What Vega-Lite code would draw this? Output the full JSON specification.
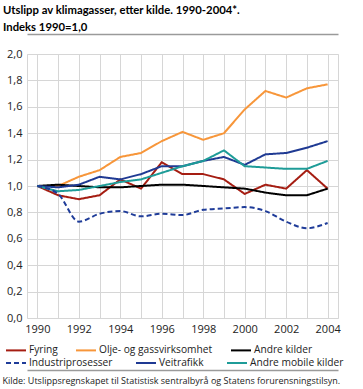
{
  "$schema": "https://vega.github.io/schema/vega-lite/v6.json",
  "autosize": "none",
  "width": 311,
  "height": 264,
  "padding": {"left": 27, "top": 54, "right": 25, "bottom": 71},
  "title": {
    "text": ["Utslipp av klimagasser, etter kilde. 1990-2004*.", "Indeks 1990=1,0"],
    "anchor": "start",
    "frame": "group",
    "dx": -24,
    "offset": 1,
    "font": "Lato",
    "fontSize": 11.3,
    "fontWeight": "bold",
    "lineHeight": 17,
    "color": "#000000"
  },
  "datasets": {
    "utslipp": [
      {"year": 1990, "kilde": "Fyring", "v": 1.00}, {"year": 1991, "kilde": "Fyring", "v": 0.93}, {"year": 1992, "kilde": "Fyring", "v": 0.90}, {"year": 1993, "kilde": "Fyring", "v": 0.93}, {"year": 1994, "kilde": "Fyring", "v": 1.05}, {"year": 1995, "kilde": "Fyring", "v": 0.98}, {"year": 1996, "kilde": "Fyring", "v": 1.18}, {"year": 1997, "kilde": "Fyring", "v": 1.09}, {"year": 1998, "kilde": "Fyring", "v": 1.09}, {"year": 1999, "kilde": "Fyring", "v": 1.05}, {"year": 2000, "kilde": "Fyring", "v": 0.94}, {"year": 2001, "kilde": "Fyring", "v": 1.01}, {"year": 2002, "kilde": "Fyring", "v": 0.98}, {"year": 2003, "kilde": "Fyring", "v": 1.12}, {"year": 2004, "kilde": "Fyring", "v": 0.98},
      {"year": 1990, "kilde": "Olje- og gassvirksomhet", "v": 1.00}, {"year": 1991, "kilde": "Olje- og gassvirksomhet", "v": 1.00}, {"year": 1992, "kilde": "Olje- og gassvirksomhet", "v": 1.07}, {"year": 1993, "kilde": "Olje- og gassvirksomhet", "v": 1.12}, {"year": 1994, "kilde": "Olje- og gassvirksomhet", "v": 1.22}, {"year": 1995, "kilde": "Olje- og gassvirksomhet", "v": 1.25}, {"year": 1996, "kilde": "Olje- og gassvirksomhet", "v": 1.34}, {"year": 1997, "kilde": "Olje- og gassvirksomhet", "v": 1.41}, {"year": 1998, "kilde": "Olje- og gassvirksomhet", "v": 1.35}, {"year": 1999, "kilde": "Olje- og gassvirksomhet", "v": 1.40}, {"year": 2000, "kilde": "Olje- og gassvirksomhet", "v": 1.58}, {"year": 2001, "kilde": "Olje- og gassvirksomhet", "v": 1.72}, {"year": 2002, "kilde": "Olje- og gassvirksomhet", "v": 1.67}, {"year": 2003, "kilde": "Olje- og gassvirksomhet", "v": 1.74}, {"year": 2004, "kilde": "Olje- og gassvirksomhet", "v": 1.77},
      {"year": 1990, "kilde": "Andre kilder", "v": 1.00}, {"year": 1991, "kilde": "Andre kilder", "v": 1.01}, {"year": 1992, "kilde": "Andre kilder", "v": 1.00}, {"year": 1993, "kilde": "Andre kilder", "v": 0.99}, {"year": 1994, "kilde": "Andre kilder", "v": 0.99}, {"year": 1995, "kilde": "Andre kilder", "v": 1.00}, {"year": 1996, "kilde": "Andre kilder", "v": 1.01}, {"year": 1997, "kilde": "Andre kilder", "v": 1.01}, {"year": 1998, "kilde": "Andre kilder", "v": 1.00}, {"year": 1999, "kilde": "Andre kilder", "v": 0.99}, {"year": 2000, "kilde": "Andre kilder", "v": 0.98}, {"year": 2001, "kilde": "Andre kilder", "v": 0.95}, {"year": 2002, "kilde": "Andre kilder", "v": 0.93}, {"year": 2003, "kilde": "Andre kilder", "v": 0.93}, {"year": 2004, "kilde": "Andre kilder", "v": 0.98},
      {"year": 1990, "kilde": "Industriprosesser", "v": 1.00}, {"year": 1991, "kilde": "Industriprosesser", "v": 0.94}, {"year": 1992, "kilde": "Industriprosesser", "v": 0.73}, {"year": 1993, "kilde": "Industriprosesser", "v": 0.79}, {"year": 1994, "kilde": "Industriprosesser", "v": 0.81}, {"year": 1995, "kilde": "Industriprosesser", "v": 0.77}, {"year": 1996, "kilde": "Industriprosesser", "v": 0.79}, {"year": 1997, "kilde": "Industriprosesser", "v": 0.78}, {"year": 1998, "kilde": "Industriprosesser", "v": 0.82}, {"year": 1999, "kilde": "Industriprosesser", "v": 0.83}, {"year": 2000, "kilde": "Industriprosesser", "v": 0.84}, {"year": 2001, "kilde": "Industriprosesser", "v": 0.81}, {"year": 2002, "kilde": "Industriprosesser", "v": 0.73}, {"year": 2003, "kilde": "Industriprosesser", "v": 0.68}, {"year": 2004, "kilde": "Industriprosesser", "v": 0.72},
      {"year": 1990, "kilde": "Veitrafikk", "v": 1.00}, {"year": 1991, "kilde": "Veitrafikk", "v": 0.99}, {"year": 1992, "kilde": "Veitrafikk", "v": 1.01}, {"year": 1993, "kilde": "Veitrafikk", "v": 1.07}, {"year": 1994, "kilde": "Veitrafikk", "v": 1.05}, {"year": 1995, "kilde": "Veitrafikk", "v": 1.09}, {"year": 1996, "kilde": "Veitrafikk", "v": 1.15}, {"year": 1997, "kilde": "Veitrafikk", "v": 1.15}, {"year": 1998, "kilde": "Veitrafikk", "v": 1.19}, {"year": 1999, "kilde": "Veitrafikk", "v": 1.22}, {"year": 2000, "kilde": "Veitrafikk", "v": 1.16}, {"year": 2001, "kilde": "Veitrafikk", "v": 1.24}, {"year": 2002, "kilde": "Veitrafikk", "v": 1.25}, {"year": 2003, "kilde": "Veitrafikk", "v": 1.29}, {"year": 2004, "kilde": "Veitrafikk", "v": 1.34},
      {"year": 1990, "kilde": "Andre mobile kilder", "v": 1.00}, {"year": 1991, "kilde": "Andre mobile kilder", "v": 0.96}, {"year": 1992, "kilde": "Andre mobile kilder", "v": 0.97}, {"year": 1993, "kilde": "Andre mobile kilder", "v": 1.00}, {"year": 1994, "kilde": "Andre mobile kilder", "v": 1.03}, {"year": 1995, "kilde": "Andre mobile kilder", "v": 1.05}, {"year": 1996, "kilde": "Andre mobile kilder", "v": 1.10}, {"year": 1997, "kilde": "Andre mobile kilder", "v": 1.15}, {"year": 1998, "kilde": "Andre mobile kilder", "v": 1.19}, {"year": 1999, "kilde": "Andre mobile kilder", "v": 1.27}, {"year": 2000, "kilde": "Andre mobile kilder", "v": 1.15}, {"year": 2001, "kilde": "Andre mobile kilder", "v": 1.14}, {"year": 2002, "kilde": "Andre mobile kilder", "v": 1.13}, {"year": 2003, "kilde": "Andre mobile kilder", "v": 1.13}, {"year": 2004, "kilde": "Andre mobile kilder", "v": 1.19}
    ]
  },
  "data": {"name": "utslipp"},
  "encoding": {
    "y": {
      "field": "v",
      "type": "quantitative",
      "scale": {"domain": [0, 2], "nice": false},
      "axis": {
        "values": [0, 0.2, 0.4, 0.6, 0.8, 1.0, 1.2, 1.4, 1.6, 1.8, 2.0],
        "labelExpr": "replace(format(datum.value, '.1f'), '.', ',')",
        "title": null,
        "domain": false,
        "labelPadding": 5
      }
    },
    "color": {
      "field": "kilde",
      "type": "nominal",
      "scale": {
        "domain": ["Fyring", "Olje- og gassvirksomhet", "Andre kilder", "Industriprosesser", "Veitrafikk", "Andre mobile kilder"],
        "range": ["#a51d12", "#f7963a", "#000000", "#1f3c99", "#1f3a93", "#1e9c98"]
      },
      "legend": {
        "title": null,
        "orient": "none",
        "legendX": -17,
        "legendY": 290,
        "direction": "horizontal",
        "values": ["Fyring", "Olje- og gassvirksomhet", "Andre kilder"],
        "columnPadding": 14,
        "symbolType": "M-2,0L2,0",
        "symbolSize": 100,
        "symbolStrokeWidth": 2,
        "labelFontSize": 10.2,
        "labelOffset": 7
      }
    },
    "strokeDash": {
      "field": "kilde",
      "type": "nominal",
      "scale": {
        "domain": ["Industriprosesser", "Veitrafikk", "Andre mobile kilder", "Fyring", "Olje- og gassvirksomhet", "Andre kilder"],
        "range": [[5, 3], [1, 0], [1, 0], [1, 0], [1, 0], [1, 0]]
      },
      "legend": {
        "title": null,
        "orient": "none",
        "legendX": -17,
        "legendY": 302.5,
        "direction": "horizontal",
        "values": ["Industriprosesser", "Veitrafikk", "Andre mobile kilder"],
        "columnPadding": 19,
        "symbolType": "M-2,0L2,0",
        "symbolSize": 100,
        "symbolStrokeWidth": 2,
        "labelFontSize": 10.2,
        "labelOffset": 7,
        "encode": {
          "symbols": {
            "update": {
              "stroke": {"scale": "color", "field": "value"},
              "strokeDash": {"scale": "strokeDash", "field": "value"}
            }
          }
        }
      }
    }
  },
  "layer": [
    {
      "transform": [{"filter": "datum.kilde != 'Industriprosesser'"}],
      "mark": {"type": "line", "strokeWidth": 2},
      "encoding": {
        "x": {
          "field": "year",
          "type": "quantitative",
          "scale": {"domain": [1989.5, 2004.5], "nice": false, "zero": false},
          "axis": {
            "orient": "bottom",
            "offset": 52,
            "domain": true,
            "domainColor": "#9a9a9a",
            "domainWidth": 1.3,
            "values": [1990, 1991, 1992, 1993, 1994, 1995, 1996, 1997, 1998, 1999, 2000, 2001, 2002, 2003, 2004],
            "labelExpr": "datum.value % 2 == 0 ? datum.value : ''",
            "title": "Kilde: Utslippsregnskapet til Statistisk sentralbyrå og Statens forurensningstilsyn.",
            "titleAnchor": "start",
            "titleAlign": "left",
            "titleBaseline": "top",
            "titleX": -25,
            "titleY": 6,
            "titleFontSize": 9,
            "titleFontWeight": "normal",
            "titleColor": "#222222",
            "labelPadding": -47,
            "labelFlush": false,
            "labelOverlap": false
          }
        }
      }
    },
    {
      "transform": [{"filter": "datum.kilde == 'Industriprosesser'"}],
      "mark": {"type": "line", "strokeWidth": 2, "interpolate": "monotone"},
      "encoding": {
        "x": {
          "field": "year",
          "type": "quantitative",
          "scale": {"domain": [1989.5, 2004.5], "nice": false, "zero": false},
          "axis": {
            "orient": "top",
            "offset": 20,
            "grid": false,
            "labels": false,
            "ticks": false,
            "domain": true,
            "domainColor": "#9a9a9a",
            "domainWidth": 1.3,
            "title": null
          }
        }
      }
    }
  ],
  "resolve": {"axis": {"x": "independent"}},
  "config": {
    "font": "Open Sans",
    "view": {"stroke": "#d6d6d6", "strokeWidth": 1},
    "axis": {
      "grid": true,
      "gridColor": "#d6d6d6",
      "gridWidth": 1,
      "ticks": false,
      "labelFontSize": 11,
      "labelColor": "#222222",
      "labelFont": "Open Sans"
    },
    "legend": {
      "labelFont": "Open Sans",
      "labelColor": "#222222"
    }
  }
}
